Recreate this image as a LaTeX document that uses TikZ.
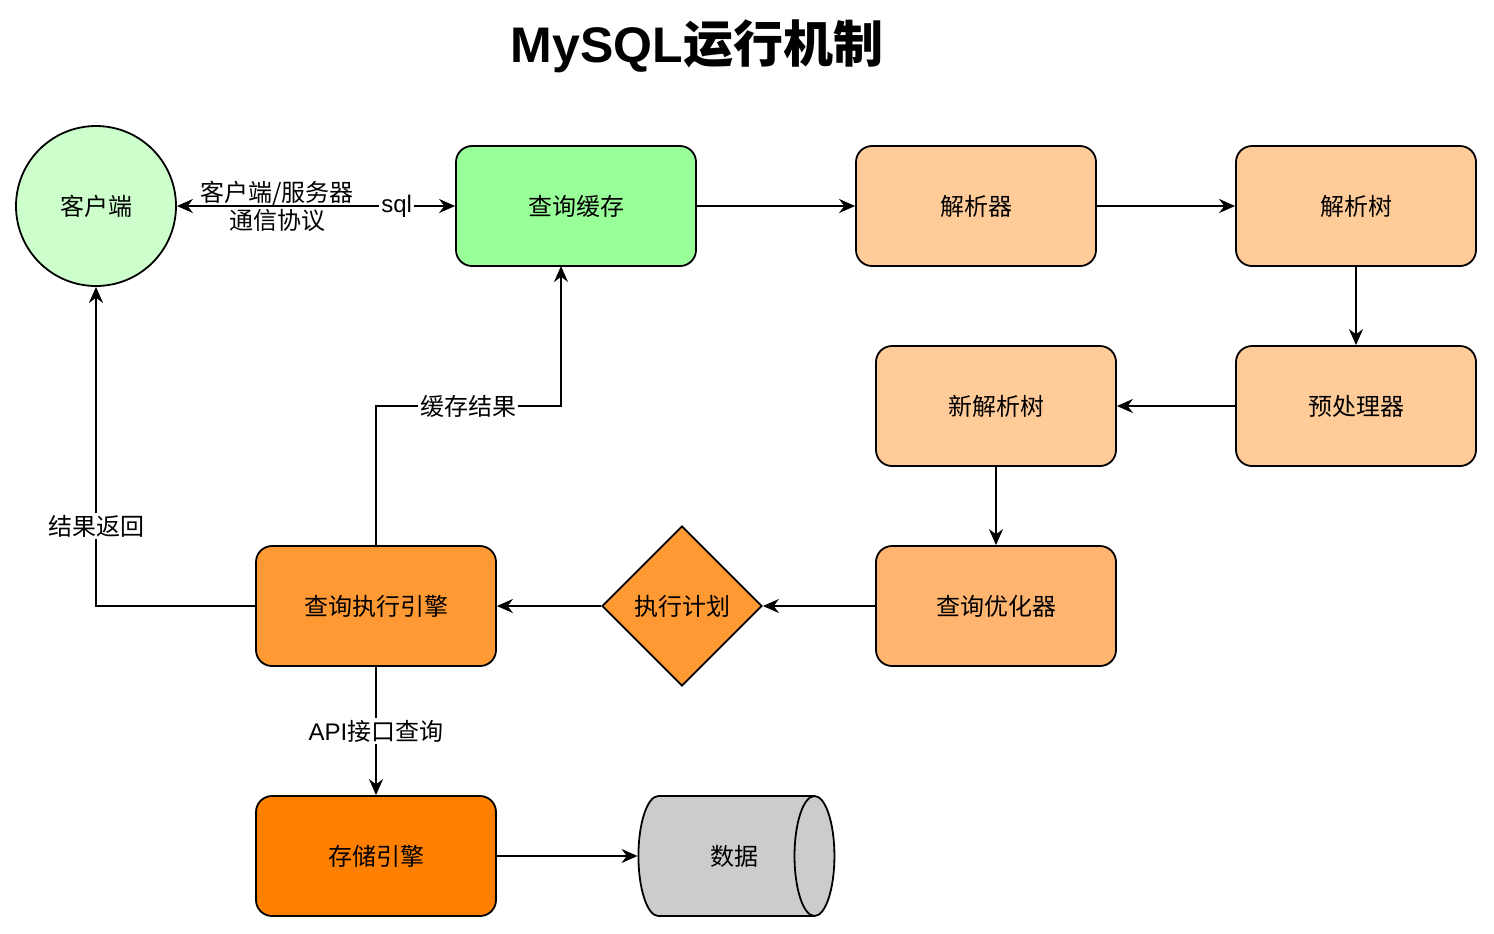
\documentclass[tikz,border=0pt]{standalone}
\usepackage{fontspec}
\setmainfont{Noto Sans CJK SC}
\newfontfamily\latinfont{Liberation Sans}
\usetikzlibrary{arrows.meta,shapes.geometric}

\begin{document}
\begin{tikzpicture}[x=0.5pt,y=-0.5pt,>={Stealth[length=8pt,width=7pt]},
  line width=0.9pt,font=\fontsize{12}{14}\selectfont,
  box/.style={draw,rounded corners=8pt,minimum width=120pt,minimum height=60pt},
  lbl/.style={fill=white,inner sep=1pt}]
  \useasboundingbox (0,0) rectangle (1494,933);
  \node[font=\fontsize{25}{30}\selectfont\bfseries] (title) at (697,46) {{\latinfont\bfseries MySQL}运行机制};
  \node[draw,circle,minimum size=80pt,fill={rgb,255:red,204;green,255;blue,204}] (client) at (96,206) {客户端};
  \node[box,fill={rgb,255:red,153;green,255;blue,153}] (cache) at (576,206) {查询缓存};
  \node[box,fill={rgb,255:red,255;green,204;blue,153}] (parser) at (976,206) {解析器};
  \node[box,fill={rgb,255:red,255;green,204;blue,153}] (tree) at (1356,206) {解析树};
  \node[box,fill={rgb,255:red,255;green,204;blue,153}] (prep) at (1356,406) {预处理器};
  \node[box,fill={rgb,255:red,255;green,204;blue,153}] (newtree) at (996,406) {新解析树};
  \node[box,fill={rgb,255:red,255;green,181;blue,112}] (optim) at (996,606) {查询优化器};
  \node[draw,diamond,minimum width=80pt,minimum height=80pt,inner sep=0pt,fill={rgb,255:red,255;green,153;blue,51}] (plan) at (682,606) {执行计划};
  \node[box,fill={rgb,255:red,255;green,153;blue,51}] (exec) at (376,606) {查询执行引擎};
  \node[box,fill={rgb,255:red,255;green,128;blue,0}] (store) at (376,856) {存储引擎};
  \node[draw,cylinder,shape aspect=1.8,minimum width=60pt,minimum height=98pt,inner sep=0pt,fill={rgb,255:red,204;green,204;blue,204}] (data) at (726,856) {\hspace*{8pt}数据};

  % top row
  \draw[<->] (client) -- (cache)
    node[pos=0.36,align=center,inner sep=0pt] {客户端/服务器\\通信协议}
    node[pos=0.79,lbl] {\latinfont sql};
  \draw[->] (cache) -- (parser);
  \draw[->] (parser) -- (tree);
  \draw[->] (tree) -- (prep);
  \draw[->] (prep) -- (newtree);
  \draw[->] (newtree) -- (optim);
  \draw[->] (optim) -- (plan);
  \draw[->] (plan) -- (exec);
  % results back
  \draw[->] (exec.west) -| (client.south) node[pos=0.625,lbl] {结果返回};
  \draw[->] (exec.north) |- (468,406) node[lbl] {缓存结果} -| (561,266);
  \draw[->] (exec) -- (store) node[midway,lbl] {{\latinfont API}接口查询};
  \draw[->] (store) -- (data);
\end{tikzpicture}
\end{document}
